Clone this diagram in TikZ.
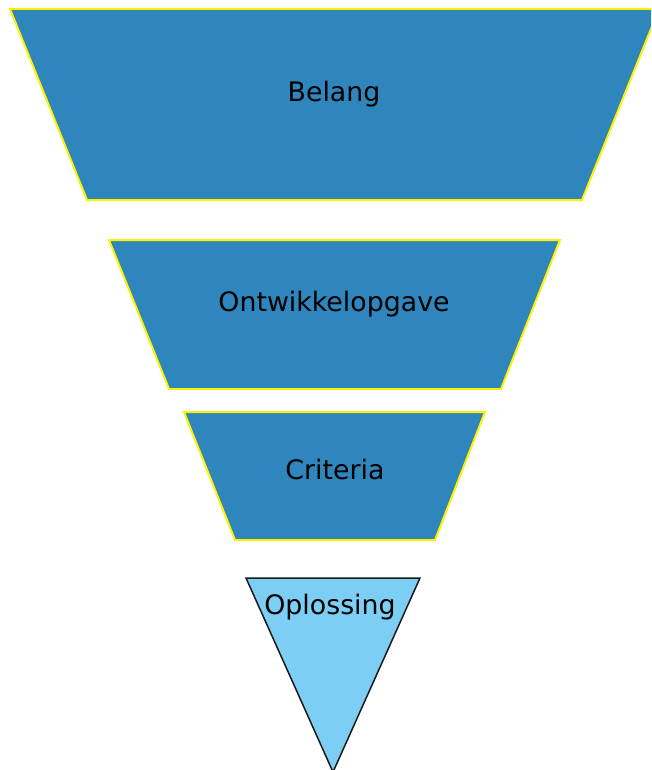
\documentclass[tikz,border=0pt]{standalone}
\usepackage{fontspec}
\setmainfont{DejaVu Sans}
\definecolor{funnelblue}{RGB}{46,134,188}
\definecolor{tipblue}{RGB}{125,206,244}
\begin{document}
\begin{tikzpicture}[
                            x=1pt, y=-1pt,
                            level/.style={fill=funnelblue, draw=yellow, line width=2pt, line join=miter},
                            tip/.style={fill=tipblue, draw=black!90, line width=1.5pt},
                            label/.style={font=\fontsize{26.8}{31}\selectfont, text=black}
                            ]
                            \useasboundingbox (0,0) rectangle (651,770);
                            \clip (0,0) rectangle (651,770);

                            \draw[level] (10,9) -- (659,9) -- (582,200) -- (87,200) -- cycle;
                            \draw[level] (109,240) -- (560,240) -- (501,389) -- (169,389) -- cycle;
                            \draw[level] (184,412) -- (485,412) -- (435,540) -- (235,540) -- cycle;
                            \draw[tip] (246,578) -- (420,578) -- (333,772) -- cycle;

                            \node[label] (belang) at (334,94) {Belang};
                            \node[label] (opgave) at (334,304) {Ontwikkelopgave};
                            \node[label] (criteria) at (335,470) {Criteria};
                            \node[label] (oplossing) at (330,607) {Oplossing};
                        \end{tikzpicture}
\end{document}
